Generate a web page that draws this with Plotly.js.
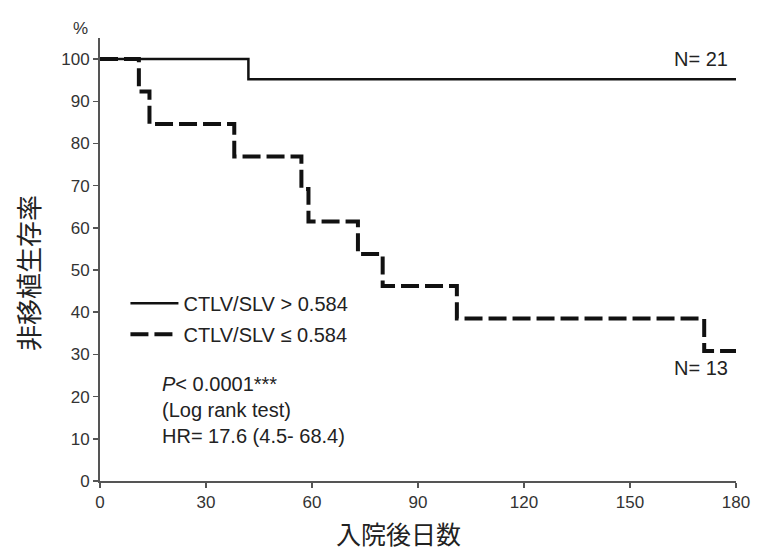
<!DOCTYPE html>
<html>
<head>
<meta charset="utf-8">
<script src="https://cdn.plot.ly/plotly-3.0.1.min.js"></script>
<style>html,body{margin:0;padding:0;background:#fff;}#chart{width:770px;height:553px;}</style>
</head>
<body>
<div id="chart"></div>
<script>
// Kaplan-Meier data (days, survival %)
const highDays = [0, 42, 180];
const highSurv = [100, 95.2, 95.2];
const lowDays = [0, 11, 14, 38, 57, 59, 73, 80, 101, 171, 180];
const lowSurv = [100, 92.3, 84.6, 76.9, 69.2, 61.5, 53.8, 46.2, 38.5, 30.8, 30.8];
const seriesNames = ['CTLV/SLV > 0.584', 'CTLV/SLV ≤ 0.584'];
const xTicks = [0, 30, 60, 90, 120, 150, 180];
const yTicks = [0, 10, 20, 30, 40, 50, 60, 70, 80, 90, 100];
const nLabels = ['N= 21', 'N= 13'];
const xTitle = '入院後日数';
const yTitle = '非移植生存率';

const font = 'Liberation Sans, Arial, sans-serif';
const cjk = '"Noto Sans CJK JP", "Noto Sans CJK SC", sans-serif';

const traces = [
  {x: highDays, y: highSurv, name: seriesNames[0], mode: 'lines',
   line: {shape: 'hv', color: '#111', width: 2.5}, legendgroup: 'a'},
  {x: lowDays, y: lowSurv, name: seriesNames[1], mode: 'lines',
   line: {shape: 'hv', color: '#111', width: 4, dash: '18px,6px'}, legendgroup: 'b'}
];

const layout = {
  width: 770, height: 553,
  margin: {l: 100, r: 34, t: 38, b: 72},
  paper_bgcolor: '#fff', plot_bgcolor: '#fff',
  font: {family: font, color: '#333', size: 17},
  xaxis: {
    range: [0, 180], tickvals: xTicks, showgrid: false, zeroline: false,
    showline: true, linecolor: '#555', linewidth: 2,
    ticks: 'outside', ticklen: 5, tickcolor: '#555', tickwidth: 1.5,
    tickfont: {size: 17, color: '#333'}
  },
  yaxis: {
    range: [0, 105], tickvals: yTicks, showgrid: false, zeroline: false,
    showline: true, linecolor: '#555', linewidth: 2,
    ticks: 'outside', ticklen: 5, tickcolor: '#555', tickwidth: 1.5,
    tickfont: {size: 17, color: '#333'}
  },
  showlegend: true,
  legend: {x: 0.04, y: 0.445, xanchor: 'left', yanchor: 'top', bgcolor: 'rgba(0,0,0,0)',
           font: {size: 20, color: '#222'}, tracegroupgap: 2, itemwidth: 48},
  annotations: [
    {xref: 'paper', yref: 'paper', x: -0.1148, y: 0.4695, xanchor: 'center', yanchor: 'middle',
     text: yTitle, textangle: -90, showarrow: false, font: {family: cjk, size: 26, color: '#222'}},
    {xref: 'paper', yref: 'paper', x: 0.4686, y: -0.118, xanchor: 'center', yanchor: 'middle',
     text: xTitle, showarrow: false, font: {family: cjk, size: 25, color: '#222'}},
    {xref: 'paper', yref: 'paper', x: -0.045, y: 0.995, xanchor: 'left', yanchor: 'bottom',
     text: '%', showarrow: false, font: {size: 17, color: '#333'}},
    {xref: 'paper', yref: 'paper', x: 0.094, y: 0.249, xanchor: 'left', yanchor: 'top', align: 'left',
     text: '<i>P</i>< 0.0001***<br>(Log rank test)<br>HR= 17.6 (4.5- 68.4)', showarrow: false,
     font: {size: 20, color: '#222'}},
    {xref: 'x', yref: 'y', x: 180, y: highSurv[highSurv.length - 1], xanchor: 'right', yanchor: 'bottom', yshift: 7, xshift: -6,
     text: nLabels[0], showarrow: false, font: {size: 20, color: '#222'}},
    {xref: 'x', yref: 'y', x: 180, y: lowSurv[lowSurv.length - 1], xanchor: 'right', yanchor: 'top', yshift: -4, xshift: -6,
     text: nLabels[1], showarrow: false, font: {size: 20, color: '#222'}}
  ]
};

Plotly.newPlot('chart', traces, layout, {displayModeBar: false, staticPlot: true});
</script>
</body>
</html>
